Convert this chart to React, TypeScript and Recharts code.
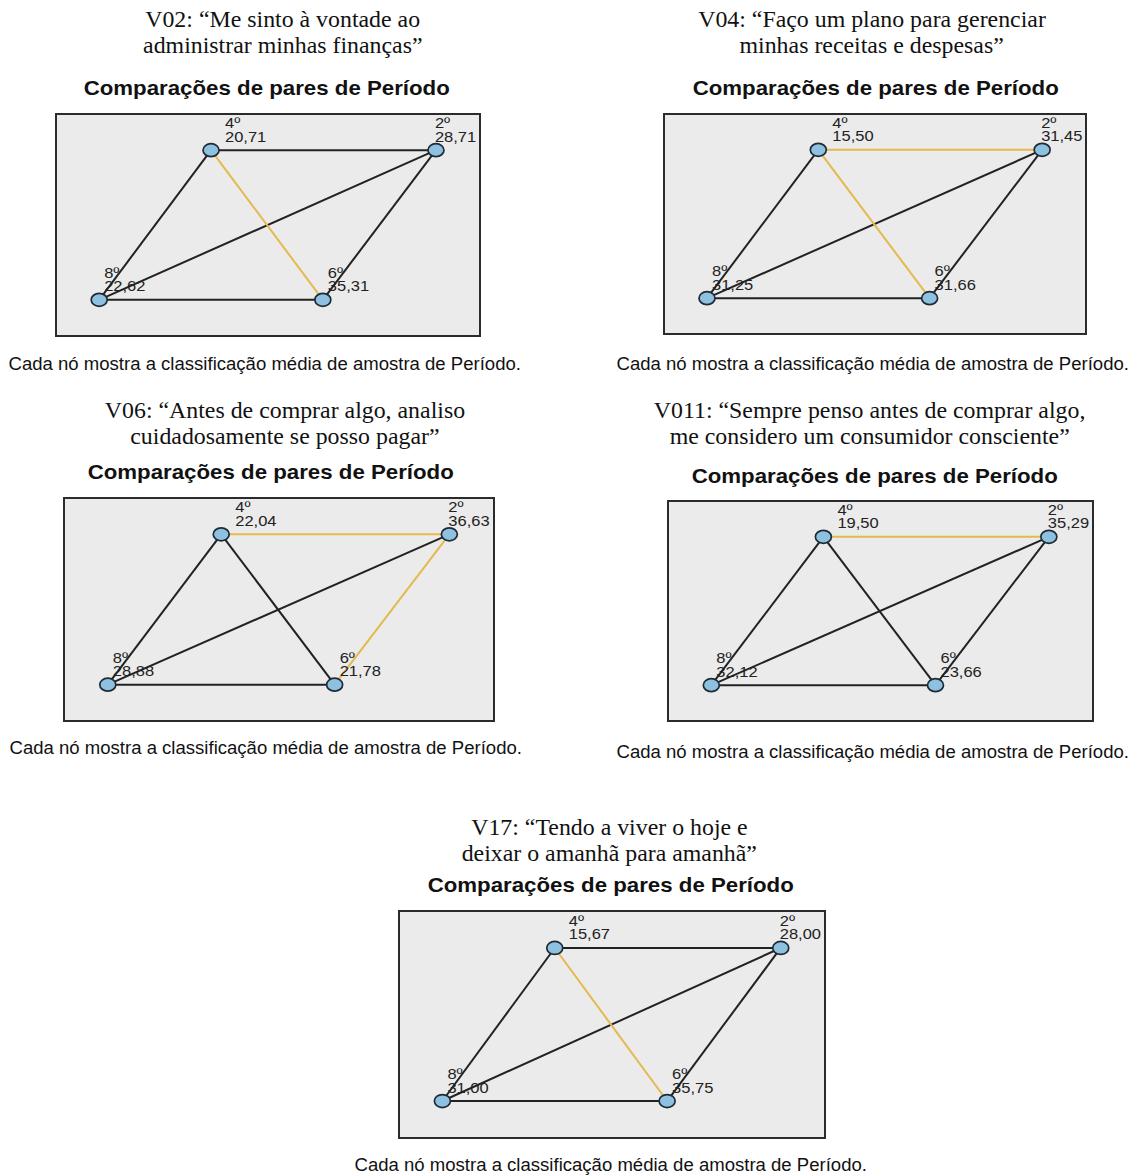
import { ScatterChart, Scatter, XAxis, YAxis, ReferenceLine } from 'recharts'

// categories (período) and mean ranks per item
const periods = ['4º', '2º', '8º', '6º']
const v02 = [20.71, 28.71, 22.62, 35.31]
const v04 = [15.5, 31.45, 31.25, 31.66]
const v06 = [22.04, 36.63, 28.88, 21.78]
const v011 = [19.5, 35.29, 32.12, 23.66]
const v17 = [15.67, 28.0, 31.0, 35.75]

// pairwise comparisons (indices into periods)
const pairs = [[0, 1], [0, 2], [0, 3], [1, 2], [1, 3], [2, 3]]
// significant pairs (drawn in orange)
const sigV02 = ['4º-6º']
const sigV04 = ['4º-2º', '4º-6º']
const sigV06 = ['4º-2º', '2º-6º']
const sigV011 = ['4º-2º']
const sigV17 = ['4º-6º']

// network layout used by SPSS (column / row of each node)
const nodeCol = [0.365, 0.898, 0.1, 0.63]
const nodeRow = [1, 1, 0, 0]
const labelDx = [14, -1, 5, 5]

const caption = 'Cada nó mostra a classificação média de amostra de Período.'
const subtitle = 'Comparações de pares de Período'
const STRETCH = 1.06

const fmt = (v: number) => v.toFixed(2).replace('.', ',')

function NodeShape(props: any) {
  const { cx, cy, payload } = props
  const tx = cx + payload.dx
  return (
    <g>
      <ellipse cx={cx} cy={cy} rx={8} ry={6.5} fill="#8ec1e0" stroke="#1e2a35" strokeWidth={1.7} />
      <text transform={`translate(${tx},${cy - 22}) scale(1.1,1)`} fontSize={15} fontFamily="Liberation Sans, Arial" fill="#222">{payload.name}</text>
      <text transform={`translate(${tx},${cy - 8.5}) scale(1.1,1)`} fontSize={15} fontFamily="Liberation Sans, Arial" fill="#222">{fmt(payload.value)}</text>
    </g>
  )
}

function Line1(p: { cx: number; cy: number; lh: number; font: string; size: number; weight?: number; text: string }) {
  return (
    <div style={{ position: 'absolute', left: p.cx - 400, width: 800, top: p.cy - p.lh / 2, height: p.lh, lineHeight: p.lh + 'px', textAlign: 'center', fontFamily: p.font, fontSize: p.size, fontWeight: p.weight ?? 400, color: '#111', whiteSpace: 'nowrap' }}>
      <span style={{ display: 'inline-block', transform: `scaleX(${STRETCH})` }}>{p.text}</span>
    </div>
  )
}

type PanelProps = {
  title: string[]
  values: number[]
  sig: string[]
  titleX: number
  titleY: number
  subX: number
  subY: number
  box: number[]
  capX: number
  capY: number
}

function Panel({ title, values, sig, titleX, titleY, subX, subY, box, capX, capY }: PanelProps) {
  const [l, t, r, b] = box
  const w = r - l - 4
  const h = b - t - 4
  const nodes = periods.map((p, i) => ({ x: nodeCol[i], y: nodeRow[i], name: p, value: values[i], dx: labelDx[i] }))
  const edges = pairs.map(([a, c]) => ({ a, c, sig: sig.includes(periods[a] + '-' + periods[c]) || sig.includes(periods[c] + '-' + periods[a]) }))
  const ordered = [...edges.filter(e => !e.sig), ...edges.filter(e => e.sig)]
  return (
    <>
      {title.map((line, i) => (
        <Line1 key={i} cx={titleX} cy={titleY + i * 26} lh={26} font="'Liberation Serif', 'Times New Roman', serif" size={22.5} text={line} />
      ))}
      <Line1 cx={subX} cy={subY} lh={24} font="'Liberation Sans', Arial, sans-serif" size={21} weight={700} text={subtitle} />
      <div style={{ position: 'absolute', left: l, top: t, width: r - l, height: b - t, boxSizing: 'border-box', border: '2px solid #2b2b2b', background: '#ebebeb' }}>
        <ScatterChart width={w} height={h} margin={{ top: 0, right: 0, bottom: 0, left: 0 }}>
          <XAxis type="number" dataKey="x" domain={[0, 1]} hide />
          <YAxis type="number" dataKey="y" domain={[-0.235, 1.235]} hide />
          {ordered.map((e, i) => (
            <ReferenceLine
              key={i}
              segment={[{ x: nodes[e.a].x, y: nodes[e.a].y }, { x: nodes[e.c].x, y: nodes[e.c].y }]}
              stroke={e.sig ? '#e5b94e' : '#222'}
              strokeWidth={e.sig ? 2 : 2}
              ifOverflow="visible"
            />
          ))}
          <Scatter data={nodes} shape={NodeShape} isAnimationActive={false} />
        </ScatterChart>
      </div>
      <Line1 cx={capX} cy={capY} lh={20} font="'Liberation Sans', Arial, sans-serif" size={17.5} text={caption} />
    </>
  )
}

export default function App() {
  return (
    <div style={{ position: 'absolute', left: 0, top: 0, width: 1129, height: 1176, background: '#fff', overflow: 'hidden' }}>
      <style>{'.recharts-surface{overflow:visible}'}</style>
      <Panel title={['V02: “Me sinto à vontade ao', 'administrar minhas finanças”']} values={v02} sig={sigV02}
        titleX={283} titleY={20} subX={267} subY={88} box={[55, 113, 481, 337]} capX={265} capY={364} />
      <Panel title={['V04: “Faço um plano para gerenciar', 'minhas receitas e despesas”']} values={v04} sig={sigV04}
        titleX={872} titleY={20} subX={876} subY={88} box={[663, 113, 1087, 335]} capX={873} capY={364} />
      <Panel title={['V06: “Antes de comprar algo, analiso', 'cuidadosamente se posso pagar”']} values={v06} sig={sigV06}
        titleX={285} titleY={411} subX={271} subY={472} box={[63, 497, 495, 722]} capX={266} capY={748} />
      <Panel title={['V011: “Sempre penso antes de comprar algo,', 'me considero um consumidor consciente”']} values={v011} sig={sigV011}
        titleX={870} titleY={411} subX={875} subY={476} box={[667, 500, 1094, 722]} capX={873} capY={752} />
      <Panel title={['V17: “Tendo a viver o hoje e', 'deixar o amanhã para amanhã”']} values={v17} sig={sigV17}
        titleX={609} titleY={828} subX={611} subY={885} box={[398, 910, 826, 1139]} capX={611} capY={1165} />
    </div>
  )
}
